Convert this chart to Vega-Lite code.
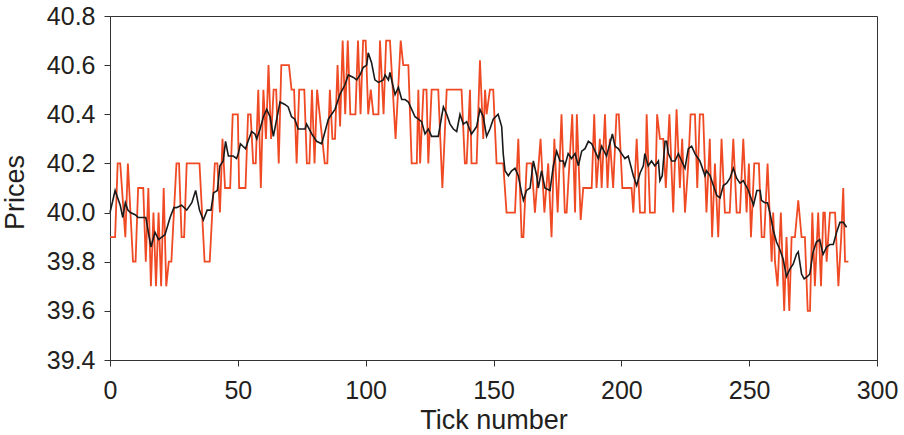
{
  "$schema": "https://vega.github.io/schema/vega-lite/v6.json",
  "width": 767,
  "height": 344,
  "autosize": {"type": "none"},
  "padding": {"left": 110, "top": 16, "right": 27, "bottom": 75},
  "background": "white",
  "config": {
    "view": {"stroke": "#333333", "strokeWidth": 1},
    "font": "Liberation Sans",
    "axis": {
      "grid": false,
      "domainColor": "#333333",
      "tickColor": "#333333",
      "tickSize": 6,
      "labelFlush": false,
      "labelOverlap": false,
      "labelFont": "Liberation Sans",
      "titleFont": "Liberation Sans",
      "labelFontSize": 25,
      "titleFontSize": 27,
      "labelColor": "#231f20",
      "titleColor": "#231f20",
      "titleFontWeight": "normal"
    }
  },
  "datasets": {
    "trade": [
      {"t":0,"p":39.9},{"t":2,"p":39.9},{"t":3,"p":40.2},{"t":4,"p":40.2},{"t":6,"p":39.9},{"t":7,"p":40.2},{"t":9,"p":39.8},{"t":10,"p":39.8},{"t":11,"p":40.1},{"t":13,"p":40.1},{"t":14,"p":39.8},{"t":15,"p":40.1},{"t":16,"p":39.7},{"t":17,"p":40.0},{"t":18,"p":39.7},{"t":19,"p":40.0},{"t":20,"p":39.7},{"t":21,"p":40.1},{"t":22,"p":39.7},{"t":23,"p":39.8},{"t":24,"p":39.8},{"t":26,"p":40.2},{"t":27,"p":40.2},{"t":28,"p":39.9},{"t":29,"p":39.9},{"t":30,"p":40.2},{"t":35,"p":40.2},{"t":37,"p":39.8},{"t":39,"p":39.8},{"t":41,"p":40.2},{"t":42,"p":40.2},{"t":43,"p":40.0},{"t":44,"p":40.3},{"t":45,"p":40.1},{"t":47,"p":40.1},{"t":48,"p":40.4},{"t":50,"p":40.4},
      {"t":50.5,"p":40.1},{"t":53,"p":40.1},{"t":54,"p":40.4},{"t":55,"p":40.4},{"t":56,"p":40.2},{"t":57,"p":40.2},{"t":58,"p":40.5},{"t":59,"p":40.1},{"t":60,"p":40.5},{"t":61,"p":40.3},{"t":62,"p":40.6},{"t":63,"p":40.3},{"t":64,"p":40.5},{"t":65,"p":40.5},{"t":66,"p":40.2},{"t":67,"p":40.6},{"t":70,"p":40.6},{"t":71,"p":40.5},{"t":72,"p":40.5},{"t":73,"p":40.2},{"t":74,"p":40.5},{"t":76,"p":40.5},{"t":77,"p":40.2},{"t":78,"p":40.2},{"t":79,"p":40.5},{"t":80,"p":40.2},{"t":81,"p":40.5},{"t":82,"p":40.4},{"t":84,"p":40.2},{"t":85,"p":40.2},{"t":86,"p":40.5},{"t":87,"p":40.3},{"t":88,"p":40.3},{"t":89,"p":40.6},{"t":90,"p":40.35},{"t":91,"p":40.7},{"t":92,"p":40.4},{"t":93,"p":40.7},{"t":94,"p":40.4},{"t":96,"p":40.4},{"t":97,"p":40.7},{"t":98,"p":40.4},{"t":99,"p":40.7},{"t":100,"p":40.7},
      {"t":101,"p":40.4},{"t":102,"p":40.5},{"t":103,"p":40.4},{"t":105,"p":40.4},{"t":105.6,"p":40.7},{"t":107,"p":40.4},{"t":108,"p":40.7},{"t":109.5,"p":40.7},{"t":111.7,"p":40.3},{"t":113.7,"p":40.7},{"t":114.7,"p":40.6},{"t":116.7,"p":40.6},{"t":118,"p":40.2},{"t":120,"p":40.2},{"t":120.6,"p":40.5},{"t":121.3,"p":40.2},{"t":122.6,"p":40.5},{"t":123.8,"p":40.5},{"t":124.5,"p":40.2},{"t":125.8,"p":40.5},{"t":128.4,"p":40.5},{"t":130,"p":40.1},{"t":131.7,"p":40.5},{"t":137.5,"p":40.5},{"t":138.8,"p":40.2},{"t":139.5,"p":40.2},{"t":140.8,"p":40.5},{"t":141.4,"p":40.2},{"t":143.4,"p":40.2},{"t":144.7,"p":40.62},{"t":146,"p":40.3},{"t":146.7,"p":40.5},{"t":147.3,"p":40.4},{"t":148.6,"p":40.5},{"t":149.9,"p":40.5},{"t":151.2,"p":40.2},
      {"t":153.8,"p":40.2},{"t":155.1,"p":40.0},{"t":158.4,"p":40.0},{"t":159.7,"p":40.3},{"t":161,"p":39.9},{"t":161.7,"p":39.9},{"t":163,"p":40.2},{"t":164.9,"p":40.2},{"t":166.2,"p":40.0},{"t":168.4,"p":40.3},{"t":169.9,"p":40.0},{"t":171.4,"p":40.2},{"t":172.7,"p":39.9},{"t":173.8,"p":40.3},{"t":175.1,"p":40.0},{"t":176.6,"p":40.4},{"t":177.9,"p":40.0},{"t":178.6,"p":40.0},{"t":180.8,"p":40.4},{"t":181.9,"p":40.0},{"t":182.6,"p":40.4},{"t":184.1,"p":39.97},{"t":185.1,"p":40.1},{"t":188.4,"p":40.1},{"t":189.4,"p":40.4},{"t":190.3,"p":40.1},{"t":191.6,"p":40.3},{"t":192.3,"p":40.1},{"t":193.6,"p":40.4},{"t":194.6,"p":40.1},{"t":195.5,"p":40.3},{"t":196.8,"p":40.1},{"t":198.1,"p":40.4},{"t":199,"p":40.4},{"t":200.4,"p":40.1},
      {"t":204,"p":40.1},{"t":204.7,"p":40.0},{"t":206,"p":40.3},{"t":207.3,"p":40.0},{"t":209.2,"p":40.0},{"t":209.9,"p":40.4},{"t":211.2,"p":40.0},{"t":213.1,"p":40.0},{"t":214,"p":40.4},{"t":215.1,"p":40.3},{"t":216.4,"p":40.3},{"t":217.4,"p":40.1},{"t":218.8,"p":40.4},{"t":220.3,"p":40.0},{"t":221.6,"p":40.42},{"t":222.9,"p":40.1},{"t":223.8,"p":40.3},{"t":224.9,"p":40.0},{"t":226.2,"p":40.2},{"t":227.1,"p":40.4},{"t":228.8,"p":40.4},{"t":229.7,"p":40.1},{"t":230.7,"p":40.4},{"t":232,"p":40.4},{"t":233.3,"p":40.0},{"t":234.6,"p":40.3},{"t":235.5,"p":39.9},{"t":236.6,"p":40.2},{"t":237.9,"p":39.9},{"t":239.2,"p":40.3},{"t":240.5,"p":40.0},{"t":242.4,"p":40.0},{"t":243.8,"p":40.3},{"t":245.1,"p":40.0},{"t":246.4,"p":40.0},{"t":247.7,"p":40.3},{"t":249,"p":40.0},{"t":249.9,"p":40.2},{"t":250.7,"p":39.9},{"t":252,"p":40.2},
      {"t":253.8,"p":40.2},{"t":254.9,"p":39.9},{"t":255.9,"p":39.9},{"t":257.2,"p":40.2},{"t":258.8,"p":39.8},{"t":259.4,"p":40.0},{"t":260.1,"p":39.8},{"t":261.1,"p":39.7},{"t":262.4,"p":40.0},{"t":263.7,"p":39.6},{"t":264.6,"p":39.9},{"t":265.7,"p":39.6},{"t":266.6,"p":39.9},{"t":267.9,"p":39.9},{"t":269.2,"p":40.05},{"t":270.5,"p":39.9},{"t":271.8,"p":39.9},{"t":272.9,"p":39.6},{"t":273.8,"p":39.6},{"t":274.7,"p":40.0},{"t":275.7,"p":39.7},{"t":277,"p":40.0},{"t":278.1,"p":39.7},{"t":279,"p":40.0},{"t":279.6,"p":40.0},{"t":280.3,"p":39.8},{"t":281.6,"p":40.0},{"t":283.6,"p":40.0},{"t":284.9,"p":39.7},{"t":286,"p":39.9},{"t":286.8,"p":40.1},{"t":287.5,"p":39.8},{"t":288.8,"p":39.8}
    ],
    "avg": [
      {"t":0,"p":40.0},{"t":2,"p":40.09},{"t":4,"p":40.03},{"t":5,"p":39.98},{"t":6,"p":40.04},{"t":7,"p":40.01},{"t":8,"p":40.0},{"t":10,"p":39.99},{"t":11,"p":39.98},{"t":12,"p":39.98},{"t":14,"p":39.98},{"t":16,"p":39.86},{"t":17.6,"p":39.92},{"t":19,"p":39.89},{"t":21.5,"p":39.91},{"t":23.5,"p":39.98},{"t":25,"p":40.02},{"t":26,"p":40.02},{"t":28,"p":40.03},{"t":30,"p":40.01},{"t":32,"p":40.04},{"t":33.5,"p":40.09},{"t":35,"p":40.01},{"t":36.5,"p":39.97},{"t":38,"p":40.01},{"t":39.5,"p":40.01},{"t":40.5,"p":40.08},{"t":42,"p":40.09},{"t":43,"p":40.19},{"t":44.3,"p":40.21},{"t":45.2,"p":40.29},{"t":46.3,"p":40.23},{"t":48.2,"p":40.23},{"t":49.5,"p":40.22},{"t":50.2,"p":40.24},
      {"t":51,"p":40.28},{"t":52,"p":40.27},{"t":53,"p":40.26},{"t":54,"p":40.29},{"t":55.4,"p":40.33},{"t":56.7,"p":40.32},{"t":57.4,"p":40.30},{"t":58.7,"p":40.34},{"t":60,"p":40.39},{"t":61.3,"p":40.42},{"t":62.6,"p":40.39},{"t":63.9,"p":40.31},{"t":65.2,"p":40.38},{"t":66.5,"p":40.45},{"t":68.4,"p":40.44},{"t":69.7,"p":40.43},{"t":71,"p":40.39},{"t":72.3,"p":40.38},{"t":73.6,"p":40.34},{"t":75,"p":40.34},{"t":76.3,"p":40.34},{"t":76.9,"p":40.36},{"t":78.9,"p":40.32},{"t":80.8,"p":40.29},{"t":82.8,"p":40.28},{"t":84.1,"p":40.33},{"t":85.4,"p":40.38},{"t":86.7,"p":40.40},{"t":88,"p":40.42},{"t":89.9,"p":40.48},{"t":91.9,"p":40.52},{"t":93.2,"p":40.56},{"t":95.2,"p":40.55},{"t":96.5,"p":40.54},{"t":97.8,"p":40.56},{"t":99,"p":40.59},{"t":100.4,"p":40.60},{"t":101,"p":40.65},
      {"t":102.3,"p":40.61},{"t":103.6,"p":40.54},{"t":105,"p":40.53},{"t":106.9,"p":40.54},{"t":107.6,"p":40.56},{"t":108.9,"p":40.54},{"t":109.5,"p":40.57},{"t":110.8,"p":40.51},{"t":111.5,"p":40.48},{"t":112.8,"p":40.51},{"t":114.1,"p":40.46},{"t":115.4,"p":40.46},{"t":116.7,"p":40.45},{"t":118,"p":40.42},{"t":119.3,"p":40.39},{"t":120.6,"p":40.38},{"t":121.9,"p":40.37},{"t":123.2,"p":40.32},{"t":124.5,"p":40.34},{"t":125.8,"p":40.31},{"t":127.1,"p":40.31},{"t":128.4,"p":40.31},{"t":129.7,"p":40.39},{"t":130.4,"p":40.43},{"t":131.7,"p":40.40},{"t":133,"p":40.36},{"t":134.3,"p":40.34},{"t":135.6,"p":40.33},{"t":136.9,"p":40.40},{"t":138.2,"p":40.36},{"t":139.5,"p":40.37},{"t":141.4,"p":40.32},{"t":143.4,"p":40.35},{"t":144.7,"p":40.42},{"t":146,"p":40.39},{"t":147.3,"p":40.31},{"t":148.6,"p":40.34},{"t":149.9,"p":40.38},{"t":151.8,"p":40.40},
      {"t":153.2,"p":40.35},{"t":153.8,"p":40.24},{"t":154.5,"p":40.17},{"t":155.8,"p":40.15},{"t":157.1,"p":40.17},{"t":158.4,"p":40.18},{"t":159.7,"p":40.15},{"t":161,"p":40.08},{"t":161.7,"p":40.05},{"t":162.9,"p":40.09},{"t":164.3,"p":40.10},{"t":165.6,"p":40.21},{"t":166.9,"p":40.15},{"t":167.5,"p":40.10},{"t":168.8,"p":40.17},{"t":170.1,"p":40.10},{"t":172.1,"p":40.09},{"t":173.4,"p":40.19},{"t":174.7,"p":40.25},{"t":176,"p":40.21},{"t":177.3,"p":40.21},{"t":177.9,"p":40.19},{"t":179.2,"p":40.24},{"t":180.5,"p":40.22},{"t":181.9,"p":40.24},{"t":183.2,"p":40.19},{"t":184.5,"p":40.25},{"t":185.8,"p":40.26},{"t":187.1,"p":40.29},{"t":188.4,"p":40.28},{"t":189.7,"p":40.25},{"t":191,"p":40.22},{"t":192.3,"p":40.27},{"t":194.2,"p":40.23},{"t":195.5,"p":40.28},{"t":196.5,"p":40.32},{"t":197.5,"p":40.27},{"t":198.8,"p":40.26},{"t":200.1,"p":40.24},{"t":201.4,"p":40.22},{"t":202.7,"p":40.23},
      {"t":204.7,"p":40.15},{"t":206,"p":40.11},{"t":207.3,"p":40.16},{"t":208.6,"p":40.19},{"t":209.2,"p":40.24},{"t":210.5,"p":40.19},{"t":211.8,"p":40.21},{"t":213.1,"p":40.19},{"t":214.5,"p":40.21},{"t":215.1,"p":40.13},{"t":216,"p":40.15},{"t":217.1,"p":40.29},{"t":217.7,"p":40.29},{"t":218.4,"p":40.24},{"t":219.7,"p":40.21},{"t":221,"p":40.21},{"t":222.3,"p":40.24},{"t":223.6,"p":40.21},{"t":224.9,"p":40.18},{"t":226.2,"p":40.26},{"t":227.5,"p":40.27},{"t":228.8,"p":40.24},{"t":229.4,"p":40.23},{"t":230.7,"p":40.21},{"t":231.4,"p":40.19},{"t":232.7,"p":40.15},{"t":233.3,"p":40.17},{"t":234.7,"p":40.15},{"t":236,"p":40.11},{"t":237.3,"p":40.07},{"t":238.6,"p":40.06},{"t":239.9,"p":40.11},{"t":241.2,"p":40.12},{"t":242.5,"p":40.14},{"t":243.8,"p":40.18},{"t":245.1,"p":40.14},{"t":246.4,"p":40.12},{"t":247.7,"p":40.13},{"t":249.7,"p":40.09},{"t":251.7,"p":40.03},{"t":253,"p":40.09},{"t":254.3,"p":40.09},
      {"t":254.8,"p":40.05},{"t":256.1,"p":40.04},{"t":257.2,"p":40.04},{"t":258.1,"p":40.0},{"t":259.4,"p":39.93},{"t":260.7,"p":39.88},{"t":262,"p":39.85},{"t":263.3,"p":39.81},{"t":264.6,"p":39.74},{"t":265.9,"p":39.77},{"t":267.2,"p":39.79},{"t":268.5,"p":39.83},{"t":269.2,"p":39.84},{"t":270.5,"p":39.75},{"t":271.5,"p":39.73},{"t":272.8,"p":39.74},{"t":273.7,"p":39.75},{"t":275,"p":39.84},{"t":276.3,"p":39.88},{"t":277.6,"p":39.89},{"t":278.9,"p":39.83},{"t":280.3,"p":39.86},{"t":281.6,"p":39.87},{"t":282.9,"p":39.87},{"t":284.2,"p":39.92},{"t":285.5,"p":39.96},{"t":286.8,"p":39.96},{"t":288.1,"p":39.94}
    ]
  },
  "layer": [
    {
      "data": {"name": "trade"},
      "mark": {"type": "line", "color": "#ef4a23", "strokeWidth": 1.8},
      "encoding": {
        "x": {
          "field": "t", "type": "quantitative",
          "scale": {"domain": [0, 300], "nice": false, "zero": false},
          "axis": {"values": [0, 50, 100, 150, 200, 250, 300], "title": "Tick number", "labelPadding": 12, "titleX": 383.5, "titleY": 68, "titleBaseline": "alphabetic"}
        },
        "y": {
          "field": "p", "type": "quantitative",
          "scale": {"domain": [39.4, 40.8], "nice": false, "zero": false},
          "axis": {"values": [39.4, 39.6, 39.8, 40.0, 40.2, 40.4, 40.6, 40.8], "format": ".1f", "title": "Prices", "labelPadding": 9, "titleX": -95, "titleY": 176, "titleBaseline": "middle"}
        }
      }
    },
    {
      "data": {"name": "avg"},
      "mark": {"type": "line", "color": "#1a1a1a", "strokeWidth": 1.6},
      "encoding": {
        "x": {"field": "t", "type": "quantitative"},
        "y": {"field": "p", "type": "quantitative"}
      }
    }
  ]
}
